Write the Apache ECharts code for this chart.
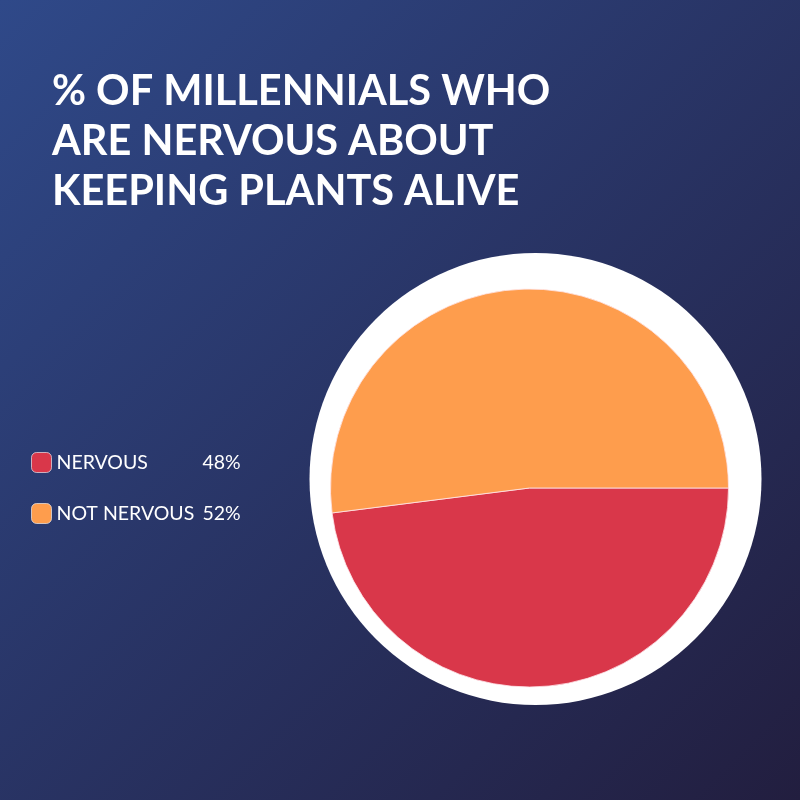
<!DOCTYPE html>
<html>
<head>
<meta charset="utf-8">
<script src="https://cdn.jsdelivr.net/npm/echarts@6/dist/echarts.min.js"></script>
<style>html,body{margin:0;padding:0;}#c{width:800px;height:800px;}</style>
</head>
<body>
<div id="c"></div>
<script>
const titleText = '% OF MILLENNIALS WHO\nARE NERVOUS ABOUT\nKEEPING PLANTS ALIVE';
const categories = ['NERVOUS', 'NOT NERVOUS'];
const values = [48, 52];
const colors = ['#d9374a', '#fe9d4d'];

const chart = echarts.init(document.getElementById('c'), null, {renderer: 'canvas'});
const option = {
  backgroundColor: new echarts.graphic.LinearGradient(0, 0, 1, 1, [
    {offset: 0, color: '#2f4989'},
    {offset: 1, color: '#221e3f'}
  ]),
  title: {
    text: titleText,
    left: 47,
    top: 62,
    textStyle: {
      color: '#ffffff',
      fontFamily: 'Lato',
      fontWeight: 'bold',
      fontSize: 41.5,
      lineHeight: 50
    }
  },
  graphic: [{
    type: 'circle',
    shape: {cx: 535.5, cy: 479, r: 226},
    style: {fill: '#ffffff'},
    z: 0,
    silent: true
  }],
  legend: {
    orient: 'vertical',
    left: 26,
    top: 447,
    itemWidth: 20,
    itemHeight: 20,
    itemGap: 30,
    icon: 'roundRect',
    itemStyle: {borderColor: 'rgba(255,255,255,0.6)', borderWidth: 1},
    selectedMode: false,
    formatter: function (name) {
      const i = categories.indexOf(name);
      return '{n|' + name + '}{v|' + values[i] + '%}';
    },
    textStyle: {
      color: '#ffffff',
      fontFamily: 'Lato',
      fontSize: 19.5,
      rich: {
        n: {width: 146, color: '#ffffff', fontFamily: 'Lato', fontSize: 19.5},
        v: {color: '#ffffff', fontFamily: 'Lato', fontSize: 19.5}
      }
    }
  },
  series: [{
    type: 'pie',
    center: [529.5, 488],
    radius: [0, 199],
    startAngle: 0,
    clockwise: true,
    z: 2,
    label: {show: false},
    labelLine: {show: false},
    emphasis: {disabled: true},
    itemStyle: {borderColor: 'rgba(255,230,235,0.8)', borderWidth: 1},
    data: categories.map((c, i) => ({name: c, value: values[i], itemStyle: {color: colors[i]}}))
  }]
};
chart.setOption(option);
</script>
</body>
</html>
